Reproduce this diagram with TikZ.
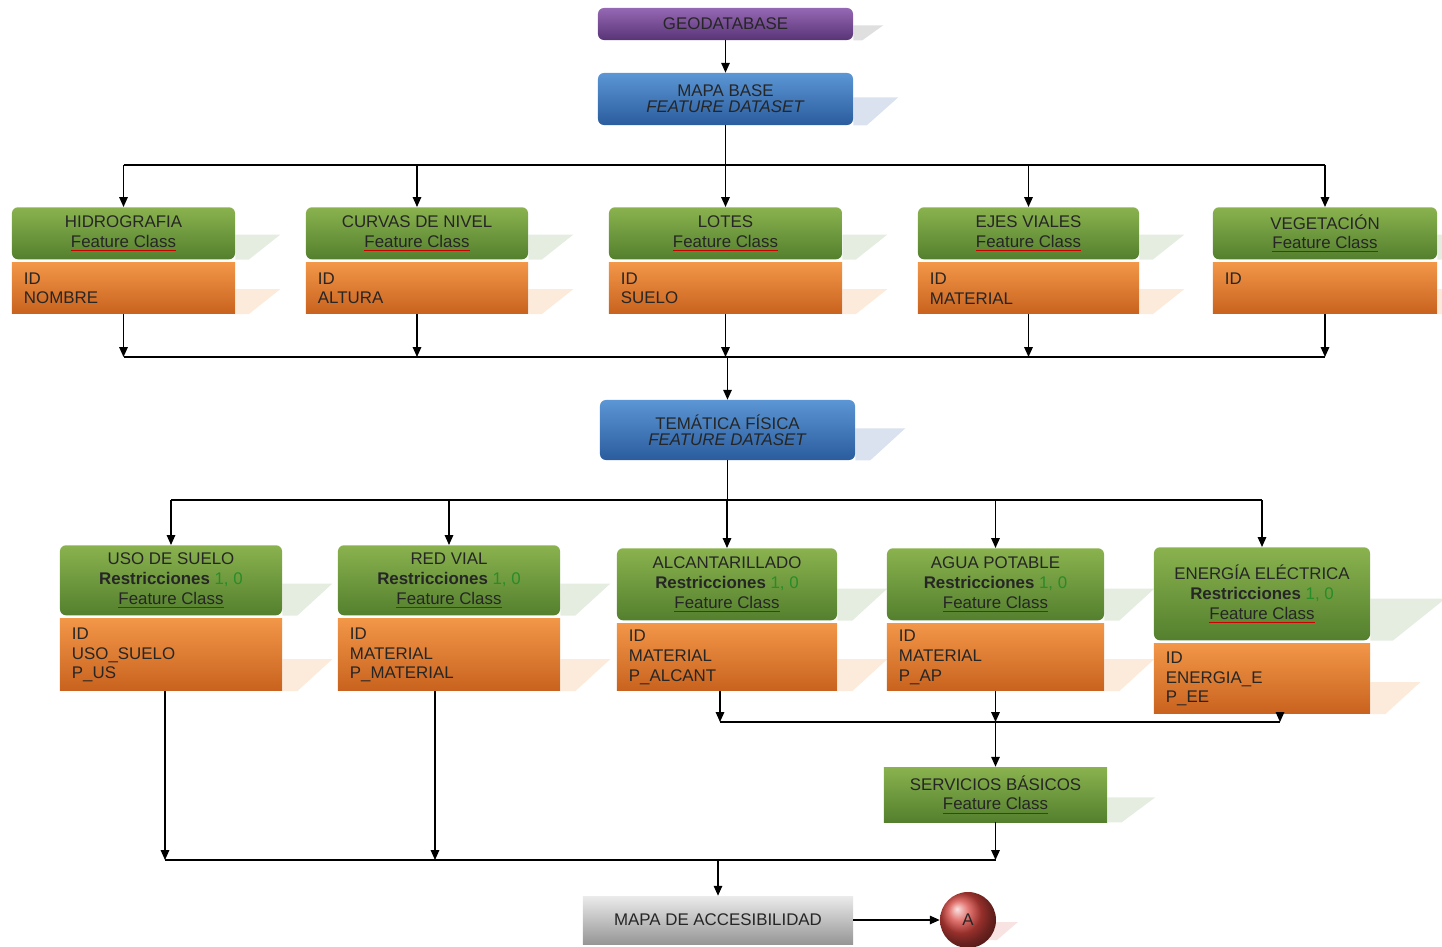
\documentclass[tikz,border=0pt]{standalone}
\usepackage{fontspec}
\setmainfont{Liberation Sans}
\usepackage{tikz}
\usetikzlibrary{arrows.meta, positioning, backgrounds}

\definecolor{greenTop}{RGB}{138,178,78}
\definecolor{greenBot}{RGB}{84,128,46}
\definecolor{orangeTop}{RGB}{242,150,72}
\definecolor{orangeBot}{RGB}{200,98,30}
\definecolor{blueTop}{RGB}{92,150,212}
\definecolor{blueBot}{RGB}{42,92,158}
\definecolor{purpleTop}{RGB}{150,104,180}
\definecolor{purpleBot}{RGB}{88,52,118}
\definecolor{grayTop}{RGB}{235,235,235}
\definecolor{grayBot}{RGB}{150,150,150}
\definecolor{ballRed}{RGB}{215,68,62}
\definecolor{digitGreen}{RGB}{40,140,40}

\newlength{\fcwidth}
\newcommand{\boxfont}{\fontsize{12}{14}\selectfont}
\newcommand{\featcls}{\settowidth{\fcwidth}{Feature Class}%
  \rlap{\color{red!80!black}\rule[-2.5pt]{\fcwidth}{0.6pt}}Feature Class}
\newcommand{\restr}{\textbf{Restricciones} {\color{digitGreen}1, 0}}

\tikzset{
  base/.style={font=\boxfont, text=black!85, align=center, inner sep=0pt},
  dataset/.style={base, font=\fontsize{12}{11.5}\selectfont, rounded corners=1.5mm,
    top color=blueTop, bottom color=blueBot, minimum width=6.375cm},
  featClass/.style={base, rounded corners=1.5mm, top color=greenTop, bottom color=greenBot},
  attrBox/.style={base, align=left, inner xsep=0.3cm, top color=orangeTop, bottom color=orangeBot},
  arr/.style={-{Triangle[length=7pt, width=6pt]}, line width=1pt, black},
  bus/.style={line width=1pt, black},
}

\begin{document}
\begin{tikzpicture}[x=0.025cm, y=-0.025cm]
\useasboundingbox (0,0) rectangle (1442,947);

%% ─── Geodatabase and datasets ───────────────────────────────────────────────
\node[base, rounded corners=1.5mm, top color=purpleTop, bottom color=purpleBot,
  minimum width=6.375cm, minimum height=0.8cm] (geodb) at (725.5,24) {GEODATABASE};
\node[dataset, minimum height=1.3cm] (mapaBase) at (725.5,99)
  {MAPA BASE\\\textit{FEATURE DATASET}};
\node[dataset, minimum height=1.5cm] (tema) at (727.5,430)
  {TEMÁTICA FÍSICA\\\textit{FEATURE DATASET}};

%% ─── Mapa base: feature classes ─────────────────────────────────────────────
\foreach \n/\cx/\w/\tw/\ttl/\att in {
    hidro/123.5/5.575/4.975/HIDROGRAFIA/{ID\\NOMBRE},
    curvas/417/5.55/4.95/CURVAS DE NIVEL/{ID\\ALTURA},
    lotes/725.5/5.825/5.225/LOTES/{ID\\SUELO},
    ejes/1028.5/5.525/4.925/EJES VIALES/{ID\\MATERIAL},
    veget/1325/5.6/5.0/VEGETACIÓN/{ID\\~}} {
  \node[featClass, minimum width=\w cm, minimum height=1.3cm, anchor=north]
    (\n) at (\cx,207) {\ttl\\\featcls};
  \node[attrBox, minimum width=\w cm, text width=\tw cm, minimum height=1.275cm,
    below=0.075cm of \n] (\n Attr) {\att};
}

%% ─── Temática física: feature classes ───────────────────────────────────────
\foreach \n/\cx/\ty/\w/\tw/\hg/\ha/\ttl/\att in {
    uso/171/545/5.55/4.95/1.75/1.8/USO DE SUELO/{ID\\USO\_SUELO\\P\_US},
    red/449/545/5.55/4.95/1.75/1.8/RED VIAL/{ID\\MATERIAL\\P\_MATERIAL},
    alcant/727/548/5.5/4.9/1.8/1.675/ALCANTARILLADO/{ID\\MATERIAL\\P\_ALCANT},
    agua/995.5/548/5.425/4.825/1.8/1.675/AGUA POTABLE/{ID\\MATERIAL\\P\_AP},
    energia/1262/547/5.4/4.8/2.325/1.75/ENERGÍA ELÉCTRICA/{ID\\ENERGIA\_E\\P\_EE}} {
  \node[featClass, minimum width=\w cm, minimum height=\hg cm, anchor=north]
    (\n) at (\cx,\ty) {\ttl\\\restr\\\featcls};
  \node[attrBox, minimum width=\w cm, text width=\tw cm, minimum height=\ha cm,
    below=0.075cm of \n] (\n Attr) {\att};
}

%% ─── Servicios básicos and final map ────────────────────────────────────────
\node[featClass, sharp corners, minimum width=5.575cm, minimum height=1.375cm]
  (servicios) at (995.5,794.5) {SERVICIOS BÁSICOS\\\featcls};
\node[base, top color=grayTop, bottom color=grayBot, minimum width=6.75cm,
  minimum height=1.2cm] (mapaAcc) at (718,920) {MAPA DE ACCESIBILIDAD};
\node[base, circle, shading=ball, ball color=ballRed, minimum size=1.4cm]
  (circA) at (968,920) {A};

%% ─── Shadows ────────────────────────────────────────────────────────────────
\begin{scope}[on background layer]
  \foreach \n/\sw/\sh/\c in {geodb/30/15/gray!25, mapaBase/45/28/blueBot!18,
      tema/50/32/blueBot!18,
      hidro/45/25/greenBot!15, curvas/45/25/greenBot!15, lotes/45/25/greenBot!15,
      ejes/45/25/greenBot!15, veget/45/25/greenBot!15,
      hidroAttr/45/25/orangeTop!20, curvasAttr/45/25/orangeTop!20,
      lotesAttr/45/25/orangeTop!20, ejesAttr/45/25/orangeTop!20,
      vegetAttr/45/25/orangeTop!20,
      uso/50/32/greenBot!15, red/50/32/greenBot!15, alcant/50/32/greenBot!15,
      agua/50/32/greenBot!15, energia/75/42/greenBot!15,
      usoAttr/50/32/orangeTop!20, redAttr/50/32/orangeTop!20,
      alcantAttr/50/32/orangeTop!20, aguaAttr/50/32/orangeTop!20,
      energiaAttr/50/32/orangeTop!20, servicios/48/25/greenBot!15,
      circA/30/18/ballRed!15}
    \fill[\c] (\n.south east) -- ++(0.3*\sw,0) -- ++(0.7*\sw,-\sh) -- ++(-\sw,0) -- cycle;
\end{scope}

%% ─── Connectors ─────────────────────────────────────────────────────────────
\coordinate (bus1) at (727,165);
\coordinate (bus2) at (727,357);
\coordinate (bus3) at (727,500);
\coordinate (bus4) at (997,722);
\coordinate (bus5) at (718,860);

\draw[arr] (geodb) -- (mapaBase);
\draw[bus] (mapaBase.south) -- (mapaBase.south |- bus1);
\draw[bus] (hidro.north |- bus1) -- (veget.north |- bus1);
\foreach \n in {hidro, curvas, lotes, ejes, veget} {
  \draw[arr] (\n.north |- bus1) -- (\n.north);
  \draw[arr] (\n Attr.south) -- (\n Attr.south |- bus2);
}
\draw[bus] (hidroAttr.south |- bus2) -- (vegetAttr.south |- bus2);
\draw[arr] (tema.north |- bus2) -- (tema.north);

\draw[bus] (tema.south) -- (tema.south |- bus3);
\draw[bus] (uso.north |- bus3) -- (energia.north |- bus3);
\foreach \n in {uso, red, alcant, agua, energia}
  \draw[arr] (\n.north |- bus3) -- (\n.north);

% agua potable, alcantarillado and energía feed servicios básicos
\draw[arr] ([xshift=-0.175cm]alcantAttr.south) -- ([xshift=-0.175cm]alcantAttr.south |- bus4);
\draw[arr] (aguaAttr.south) -- (aguaAttr.south |- bus4);
\draw[arr] ([xshift=0.45cm]energiaAttr.south) -- ([xshift=0.45cm]energiaAttr.south |- bus4);
\draw[bus] ([xshift=-0.175cm]alcantAttr.south |- bus4) -- ([xshift=0.45cm]energiaAttr.south |- bus4);
\draw[arr] (aguaAttr.south |- bus4) -- (servicios.north);

% everything meets in the accessibility map
\draw[arr] ([xshift=-0.15cm]usoAttr.south) -- ([xshift=-0.15cm]usoAttr.south |- bus5);
\draw[arr] ([xshift=-0.35cm]redAttr.south) -- ([xshift=-0.35cm]redAttr.south |- bus5);
\draw[arr] (servicios.south) -- (servicios.south |- bus5);
\draw[bus] ([xshift=-0.15cm]usoAttr.south |- bus5) -- (servicios.south |- bus5);
\draw[arr] (mapaAcc.north |- bus5) -- (mapaAcc.north);
\draw[arr] (mapaAcc) -- (circA);

\end{tikzpicture}
\end{document}
